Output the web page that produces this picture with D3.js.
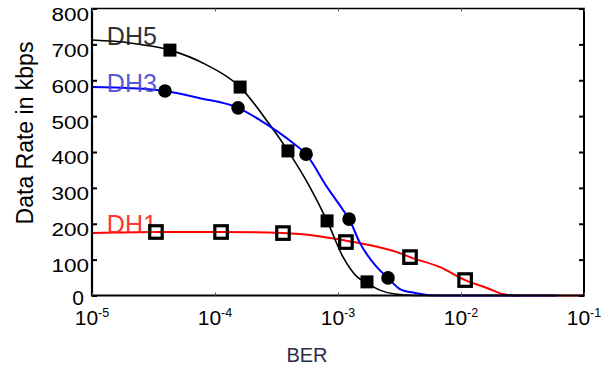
<!DOCTYPE html>
<html>
<head>
<meta charset="utf-8">
<script src="https://cdn.jsdelivr.net/npm/d3@7/dist/d3.min.js"></script>
<style>
  html, body { margin: 0; padding: 0; background: #fff; }
  svg { display: block; }
  text { font-family: "Liberation Sans", Arial, sans-serif; }
</style>
</head>
<body>
<svg id="chart" width="612" height="368"></svg>
<script>
// ---- data ----
const berTickValues = [1e-5, 1e-4, 1e-3, 1e-2, 1e-1];
const berTickExponents = ["-5", "-4", "-3", "-2", "-1"];
const rateTickValues = [0, 100, 200, 300, 400, 500, 600, 700, 800];

// simulation curves (BER, rate)
const dh5CurveBer  = [1e-5, 2.04e-5, 4.3e-5, 8.3e-5, 1.6e-4, 2.8e-4, 3.92e-4, 5.91e-4, 8.15e-4, 1.1e-3, 1.43e-3, 1.72e-3, 2.19e-3, 2.9e-3, 4.23e-3, 1e-2, 3e-2];
const dh5CurveRate = [712, 704, 684, 645, 581, 475, 403, 302, 208, 107, 52, 35, 15, 4, 0, 0, 0];

const dh3CurveBer  = [1e-5, 2.04e-5, 3.92e-5, 7.55e-5, 1.54e-4, 2.32e-4, 4.31e-4, 5.5e-4, 8.15e-4, 1.1e-3, 1.23e-3, 1.51e-3, 2.07e-3, 2.55e-3, 3.19e-3, 4.23e-3, 5.6e-3, 8e-3, 6e-2];
const dh3CurveRate = [581, 578, 570, 550, 523, 489, 425, 394, 302, 238, 213, 146, 79, 49, 18, 7, 1, 0, 0];

const dh1CurveBer  = [1e-5, 3.31e-5, 1.12e-4, 3.57e-4, 6.75e-4, 1.16e-3, 1.66e-3, 3.19e-3, 3.85e-3, 6.75e-3, 1.08e-2, 1.63e-2, 2.19e-2, 2.75e-2, 1e-1];
const dh1CurveRate = [174, 177, 177, 174, 166, 153, 143, 118, 107, 79, 43, 21, 4, 0, 0];

// analytical markers
const dh5MarkBer  = [4.3e-5, 1.6e-4, 3.92e-4, 8.15e-4, 1.72e-3];
const dh5MarkRate = [684, 581, 403, 208, 38];
const dh3MarkBer  = [3.92e-5, 1.54e-4, 5.5e-4, 1.23e-3, 2.55e-3];
const dh3MarkRate = [570, 523, 394, 213, 49];
const dh1MarkBer  = [3.31e-5, 1.12e-4, 3.57e-4, 1.16e-3, 3.85e-3, 1.08e-2];
const dh1MarkRate = [177, 177, 174, 149, 107, 43];

const seriesLabels = ["DH5", "DH3", "DH1"];
const labelBer  = [1.32e-5, 1.32e-5, 1.32e-5];
const labelRate = [698, 567, 174];

// ---- layout ----
const svg = d3.select("#chart");
const L = 92, R = 584, T = 8.5, B = 295.5;

const x = d3.scaleLog().domain([1e-5, 1e-1]).range([L, R]);
const y = d3.scaleLinear().domain([0, 800]).range([B, T]);

const zip = (a, b) => a.map((v, i) => [v, b[i]]);
const line = d3.line().x(d => x(d[0])).y(d => y(d[1])).curve(d3.curveMonotoneX);

// curves
const curves = [
  {data: zip(dh1CurveBer, dh1CurveRate), color: "#ff0000", w: 2},
  {data: zip(dh5CurveBer, dh5CurveRate), color: "#000000", w: 1.6},
  {data: zip(dh3CurveBer, dh3CurveRate), color: "#0000ff", w: 2},
];
curves.forEach(c => {
  svg.append("path").attr("d", line(c.data)).attr("fill", "none")
    .attr("stroke", c.color).attr("stroke-width", c.w);
});

// series labels
const labelColors = ["#1a1a1a", "#4848d4", "#ff2020"];
seriesLabels.forEach((t, i) => {
  svg.append("text").attr("x", x(labelBer[i])).attr("y", y(labelRate[i]))
    .attr("font-size", 25).attr("fill", labelColors[i]).attr("opacity", 0.9).text(t);
});

// markers
const ms = 13;
svg.append("g").selectAll("rect").data(zip(dh5MarkBer, dh5MarkRate)).join("rect")
  .attr("x", d => x(d[0]) - ms / 2).attr("y", d => y(d[1]) - ms / 2)
  .attr("width", ms).attr("height", ms).attr("fill", "#000");
svg.append("g").selectAll("circle").data(zip(dh3MarkBer, dh3MarkRate)).join("circle")
  .attr("cx", d => x(d[0])).attr("cy", d => y(d[1])).attr("r", 6.8).attr("fill", "#000");
const os = 12.5;
svg.append("g").selectAll("rect").data(zip(dh1MarkBer, dh1MarkRate)).join("rect")
  .attr("x", d => x(d[0]) - os / 2).attr("y", d => y(d[1]) - os / 2)
  .attr("width", os).attr("height", os).attr("fill", "none")
  .attr("stroke", "#000").attr("stroke-width", 3.2);

// axes box
const axisG = svg.append("g");
axisG.append("line").attr("x1", L).attr("x2", L).attr("y1", T).attr("y2", B).attr("stroke", "#000").attr("stroke-width", 2.2);
axisG.append("line").attr("x1", R).attr("x2", R).attr("y1", T).attr("y2", B).attr("stroke", "#000").attr("stroke-width", 2);
axisG.append("line").attr("x1", L - 1).attr("x2", R + 1).attr("y1", B).attr("y2", B).attr("stroke", "#000").attr("stroke-width", 2.2);
axisG.append("line").attr("x1", L - 1).attr("x2", R + 1).attr("y1", T).attr("y2", T).attr("stroke", "#000").attr("stroke-width", 1.6);

// y ticks (left and right, inward)
const yAxisL = d3.axisLeft(y).tickValues(rateTickValues).tickSize(-5).tickFormat("");
const yAxisR = d3.axisRight(y).tickValues(rateTickValues).tickSize(-5).tickFormat("");
const gyl = svg.append("g").attr("transform", `translate(${L},0)`).call(yAxisL);
const gyr = svg.append("g").attr("transform", `translate(${R},0)`).call(yAxisR);
[gyl, gyr].forEach(g => {
  g.select(".domain").remove();
  g.selectAll(".tick line").attr("stroke", "#000").attr("stroke-width", 2);
});

// x ticks (top and bottom, inward)
const xAxisB = d3.axisBottom(x).tickValues(berTickValues).tickSize(-3).tickFormat("");
const xAxisT = d3.axisTop(x).tickValues(berTickValues).tickSize(-3).tickFormat("");
const gxb = svg.append("g").attr("transform", `translate(0,${B})`).call(xAxisB);
const gxt = svg.append("g").attr("transform", `translate(0,${T})`).call(xAxisT);
[gxb, gxt].forEach(g => {
  g.select(".domain").remove();
  g.selectAll(".tick line").attr("stroke", "#555").attr("stroke-width", 1);
});

// y tick labels (wide-looking digits)
rateTickValues.forEach(v => {
  if (v === 0) {
    svg.append("text").attr("x", 78).attr("y", y(v) + 1.5).attr("dy", "0.36em")
      .attr("text-anchor", "middle").attr("font-size", 21).attr("fill", "#000").text("0");
  } else {
    svg.append("text").attr("text-anchor", "end")
      .attr("transform", `translate(89,${y(v) + 6}) scale(1.25,1)`)
      .attr("dy", "0.36em").attr("font-size", 18).attr("fill", "#000").text(String(v));
  }
});

// x tick labels 10^n
berTickValues.forEach((v, i) => {
  const t = svg.append("text").attr("x", x(v)).attr("y", 324.5)
    .attr("text-anchor", "middle").attr("fill", "#000");
  t.append("tspan").attr("font-size", 21).text("10");
  t.append("tspan").attr("font-size", 12.5).attr("dy", -7.5).text(berTickExponents[i]);
});

// axis titles
svg.append("text").attr("x", 307).attr("y", 362).attr("text-anchor", "middle")
  .attr("font-size", 20).attr("fill", "#2b2b4b").text("BER");
svg.append("text").attr("transform", "translate(33,133) rotate(-90)")
  .attr("text-anchor", "middle").attr("font-size", 23).attr("fill", "#000")
  .text("Data Rate in kbps");
</script>
</body>
</html>
